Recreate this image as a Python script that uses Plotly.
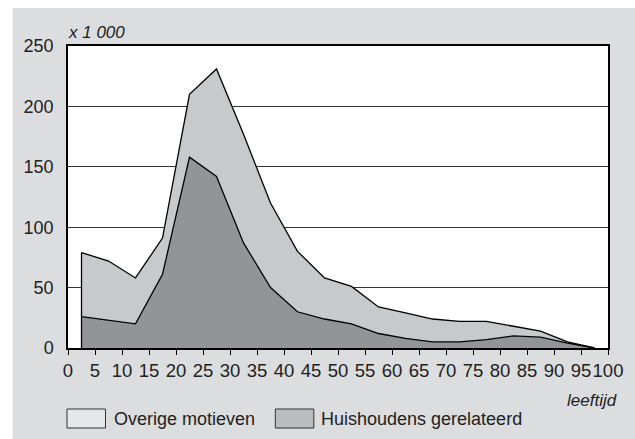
import plotly.graph_objects as go

# ---- data (x 1 000) ----
leeftijd = [2.5, 7.5, 12.5, 17.5, 22.5, 27.5, 32.5, 37.5, 42.5, 47.5,
            52.5, 57.5, 62.5, 67.5, 72.5, 77.5, 82.5, 87.5, 92.5, 97.5]
totaal = [79, 72, 58, 91, 210, 231, 177, 120, 80, 58,
          51, 34, 29, 24, 22, 22, 18, 14, 5, 0]
huishoudens = [26, 23, 20, 61, 158, 142, 87, 50, 30, 24,
               20, 12, 8, 5, 5, 7, 10, 9, 4, 0]
legend_labels = ["Overige motieven", "Huishoudens gerelateerd"]
x_ticks = list(range(0, 101, 5))
y_ticks = list(range(0, 251, 50))

FONT = "Liberation Sans, Arial, Helvetica, sans-serif"
W, H = 635, 439
L, R, T, B = 68, 615, 46, 348
pw, ph = R - L, B - T


def px(x):  # page pixel -> paper coord
    return (x - L) / pw


def py(y):
    return (B - y) / ph


fig = go.Figure()
fig.add_trace(go.Scatter(x=leeftijd, y=huishoudens, mode="lines",
                         line=dict(color="black", width=1.3),
                         fill="tozeroy", fillcolor="#939496",
                         showlegend=False, hoverinfo="skip"))
fig.add_trace(go.Scatter(x=leeftijd, y=totaal, mode="lines",
                         line=dict(color="black", width=1.3),
                         fill="tonexty", fillcolor="#c8c9cb",
                         showlegend=False, hoverinfo="skip"))
# left edge of the area
fig.add_trace(go.Scatter(x=[leeftijd[0], leeftijd[0]], y=[0, totaal[0]],
                         mode="lines", line=dict(color="black", width=1.3),
                         showlegend=False, hoverinfo="skip"))

shapes = [
    dict(type="rect", xref="paper", yref="paper", layer="below",
         x0=px(12), x1=px(650), y0=py(450), y1=py(8),
         fillcolor="#dcdddf", line=dict(width=0)),
    dict(type="rect", xref="paper", yref="paper", layer="below",
         x0=0, x1=1, y0=0, y1=1, fillcolor="white", line=dict(width=0)),
    # legend boxes
    dict(type="rect", xref="paper", yref="paper",
         x0=px(67), x1=px(106), y0=py(428), y1=py(409),
         fillcolor="#e6e7e9", line=dict(color="#333", width=1)),
    dict(type="rect", xref="paper", yref="paper",
         x0=px(278), x1=px(317), y0=py(428), y1=py(409),
         fillcolor="#bbbcbe", line=dict(color="#333", width=1)),
]

annotations = [
    dict(text="<i>x 1 000</i>", xref="paper", yref="paper", x=px(66), y=py(33),
         xanchor="left", yanchor="middle", showarrow=False,
         font=dict(family=FONT, size=17, color="#222")),
    dict(text="<i>leeftijd</i>", xref="paper", yref="paper", x=px(626), y=py(400),
         xanchor="right", yanchor="middle", showarrow=False,
         font=dict(family=FONT, size=17, color="#222")),
    dict(text=legend_labels[0], xref="paper", yref="paper", x=px(113), y=py(419),
         xanchor="left", yanchor="middle", showarrow=False,
         font=dict(family=FONT, size=18, color="#222")),
    dict(text=legend_labels[1], xref="paper", yref="paper", x=px(322), y=py(419),
         xanchor="left", yanchor="middle", showarrow=False,
         font=dict(family=FONT, size=18, color="#222")),
]

fig.update_layout(
    width=W, height=H,
    margin=dict(l=L, r=W - R, t=T, b=H - B, pad=0),
    paper_bgcolor="white", plot_bgcolor="rgba(0,0,0,0)",
    font=dict(family=FONT, size=18, color="#222"),
    shapes=shapes, annotations=annotations, showlegend=False,
    hovermode=False,
)
fig.update_xaxes(range=[0, 100], tickvals=x_ticks, ticktext=[str(v) for v in x_ticks],
                 tickangle=0,
                 ticks="outside", ticklen=5, tickcolor="black", tickwidth=1,
                 showgrid=False, zeroline=False,
                 showline=True, linecolor="black", linewidth=1.5, mirror=True,
                 tickfont=dict(family=FONT, size=18.5, color="#222"))
fig.update_yaxes(range=[0, 250], tickvals=y_ticks,
                 ticks="outside", ticklen=9, tickcolor="rgba(0,0,0,0)",
                 showgrid=True, gridcolor="#333", gridwidth=1, zeroline=False,
                 showline=True, linecolor="black", linewidth=1.5, mirror=True,
                 tickfont=dict(family=FONT, size=18, color="#222"))

fig.write_html("out.html",
               config={"displayModeBar": False, "responsive": False},
               post_script="document.body.style.margin='0';"
                           "document.body.style.overflow='hidden';")
